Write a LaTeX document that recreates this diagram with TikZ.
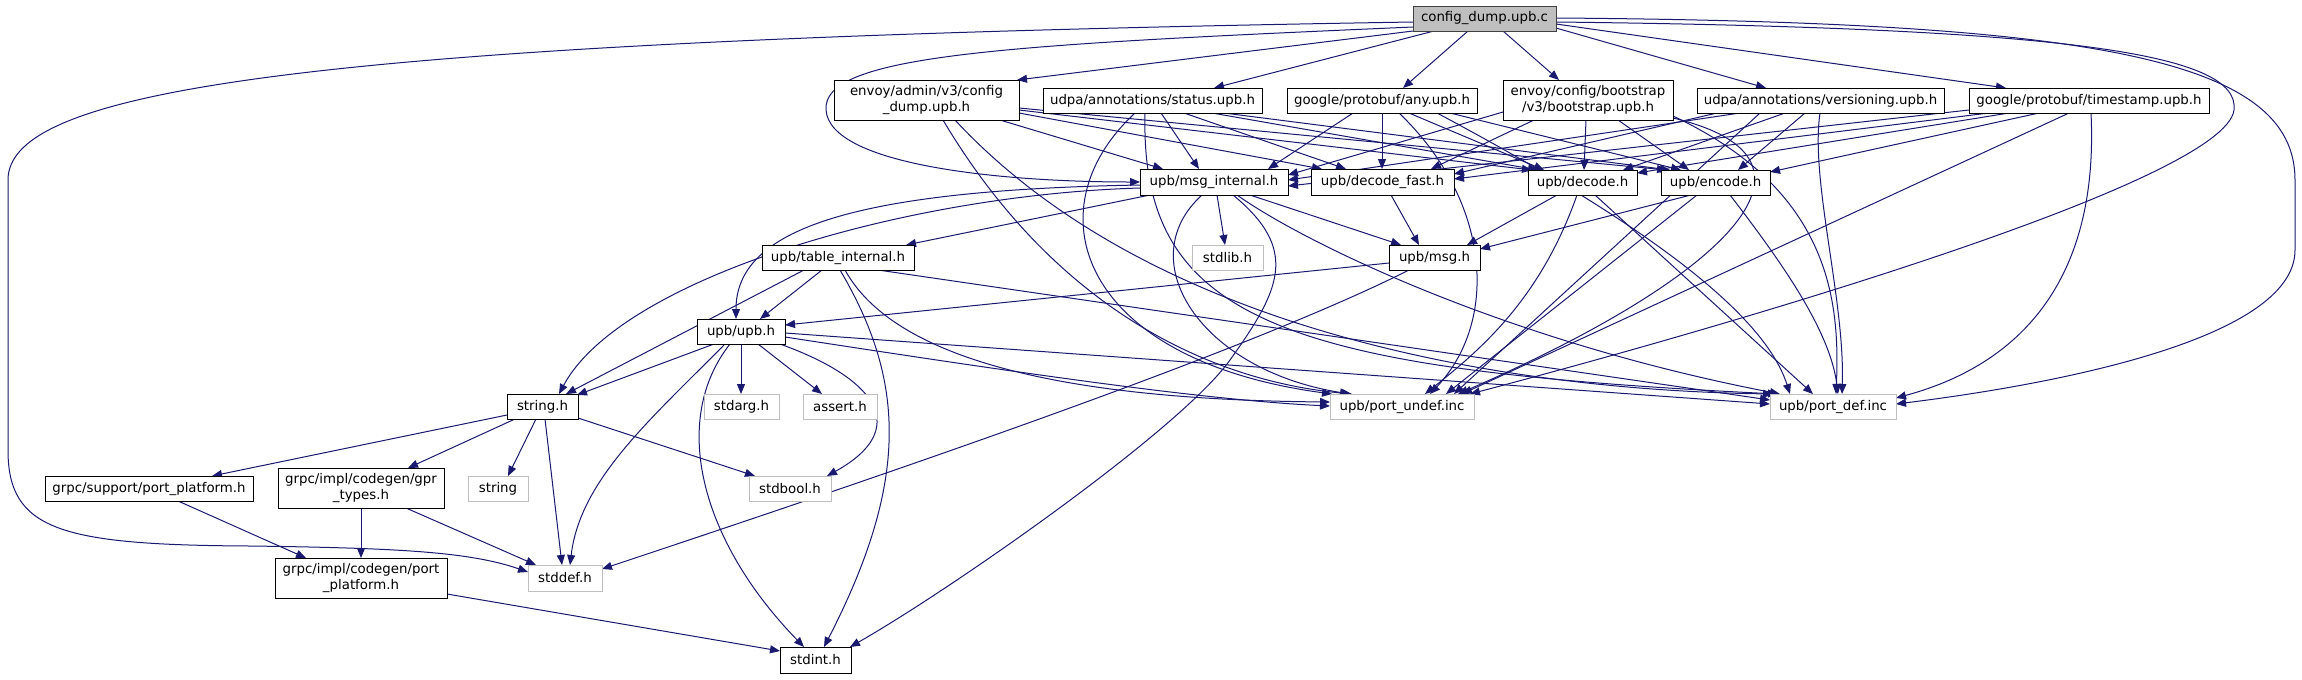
\documentclass[tikz,border=0pt]{standalone}
\usepackage{fontspec}
\setmainfont{DejaVu Sans}
\usetikzlibrary{arrows.meta}
\definecolor{edgeblue}{HTML}{191970}
\definecolor{sysgray}{HTML}{BFBFBF}
\definecolor{rootfill}{HTML}{BFBFBF}
\definecolor{rootdraw}{HTML}{404040}
\pgfdeclarelayer{bg}
\pgfsetlayers{bg,main}
\tikzset{
  box/.style={line width=0.75pt, inner sep=0pt, outer sep=0pt, anchor=north west,
    font=\fontsize{10}{12}\selectfont, align=center, fill=white},
  doc/.style={box, draw=black},
  sys/.style={box, draw=sysgray},
  rootn/.style={box, draw=rootdraw, fill=rootfill},
  edge/.style={draw=edgeblue, line width=0.75pt, -{Triangle[length=7.5pt,width=6pt]}}
}
\begin{document}
\begin{tikzpicture}[x=0.75pt, y=-0.75pt]
\useasboundingbox (0,0) rectangle (2302,679);
% nodes
\node[rootn, minimum width=107.25pt, minimum height=18.75pt] (root) at (1413,6) {config\_dump.upb.c};
\node[doc, minimum width=138.75pt, minimum height=30pt] (admin) at (834,80) {envoy/admin/v3/config\\\_dump.upb.h};
\node[doc, minimum width=164.25pt, minimum height=18.75pt] (status) at (1043,88) {udpa/annotations/status.upb.h};
\node[doc, minimum width=142.5pt, minimum height=18.75pt] (any) at (1287,88) {google/protobuf/any.upb.h};
\node[doc, minimum width=127.5pt, minimum height=30pt] (boot) at (1503,80) {envoy/config/bootstrap\\/v3/bootstrap.upb.h};
\node[doc, minimum width=185.25pt, minimum height=18.75pt] (vers) at (1697,88) {udpa/annotations/versioning.upb.h};
\node[doc, minimum width=180pt, minimum height=18.75pt] (ts) at (1969,88) {google/protobuf/timestamp.upb.h};
\node[doc, minimum width=111pt, minimum height=19.5pt] (msgint) at (1140,169) {upb/msg\_internal.h};
\node[doc, minimum width=107.25pt, minimum height=19.5pt] (dfast) at (1311,169) {upb/decode\_fast.h};
\node[doc, minimum width=81.75pt, minimum height=18.75pt] (dec) at (1528,170) {upb/decode.h};
\node[doc, minimum width=81.75pt, minimum height=18.75pt] (enc) at (1661,170) {upb/encode.h};
\node[doc, minimum width=114pt, minimum height=18.75pt] (tabint) at (762,245) {upb/table\_internal.h};
\node[sys, minimum width=53.25pt, minimum height=18.75pt] (stdlib) at (1192,245) {stdlib.h};
\node[doc, minimum width=68.25pt, minimum height=18.75pt] (msg) at (1389,245) {upb/msg.h};
\node[doc, minimum width=66pt, minimum height=18.75pt] (upb) at (697,319) {upb/upb.h};
\node[doc, minimum width=53.25pt, minimum height=18.75pt] (stringh) at (507,394) {string.h};
\node[sys, minimum width=56.25pt, minimum height=18.75pt] (stdarg) at (704,394) {stdarg.h};
\node[sys, minimum width=55.5pt, minimum height=18.75pt] (assert) at (803,394) {assert.h};
\node[sys, minimum width=108pt, minimum height=18.75pt] (undef) at (1330,394) {upb/port\_undef.inc};
\node[sys, minimum width=94.5pt, minimum height=18.75pt] (def) at (1770,394) {upb/port\_def.inc};
\node[doc, minimum width=156pt, minimum height=18.75pt] (gsupport) at (45,476) {grpc/support/port\_platform.h};
\node[doc, minimum width=124.5pt, minimum height=30pt] (gprtypes) at (278,468) {grpc/impl/codegen/gpr\\\_types.h};
\node[sys, minimum width=45pt, minimum height=18.75pt] (stringx) at (468,476) {string};
\node[sys, minimum width=61.5pt, minimum height=18.75pt] (stdbool) at (749,476) {stdbool.h};
\node[doc, minimum width=129pt, minimum height=30pt] (gport) at (275,558) {grpc/impl/codegen/port\\\_platform.h};
\node[sys, minimum width=55.5pt, minimum height=19.5pt] (stddef) at (528,565) {stddef.h};
\node[doc, minimum width=53.25pt, minimum height=19.5pt] (stdint) at (780,647) {stdint.h};
% edges
\begin{pgfonlayer}{bg}
\foreach \a/\ax/\ay/\b/\bx/\by in {
 root/0/25/admin/183/0, root/21/25/status/171/0, root/55/25/any/116/0,
 root/90/25/boot/56/0, root/143/22/vers/69/0, root/143/18/ts/37/0,
 admin/166/40/msgint/23/0, admin/185/33/dfast/11/0, admin/185/30/dec/4/0, admin/185/28/enc/6/0,
 status/118/25/msgint/59/0, status/141/25/dfast/35/0, status/169/25/dec/10/0, status/181/25/enc/9/0,
 any/66/25/msgint/128/0, any/95/25/dfast/71/0, any/122/25/dec/16/0, any/163/25/enc/20/0,
 boot/0/32/msgint/148/6, boot/31/40/dfast/120/0, boot/83/40/dec/56/0, boot/115/40/enc/28/0,
 vers/43/25/msgint/148/11, vers/20/25/dfast/143/5, vers/88/25/dec/95/0, vers/108/25/enc/77/0,
 vers/63/25/undef/124/0,
 ts/0/22/msgint/148/17, ts/20/25/dfast/143/10, ts/40/25/dec/109/3, ts/70/25/enc/109/2,
 ts/100/25/undef/132/0,
 msgint/10/26/tabint/144/0, msgint/77/26/stdlib/33/0, msgint/110/26/msg/12/0,
 dfast/80/26/msg/30/0, dec/29/25/msg/78/0, dec/67/25/def/43/0,
 enc/30/25/msg/91/4, enc/36/25/undef/116/0,
 msg/0/18/upb/88/6,
 tabint/60/25/upb/63/0, tabint/42/25/stringh/59/0, tabint/116/25/def/0/6,
 upb/17/25/stringh/70/1, upb/44/25/stdarg/37/0, upb/61/25/assert/19/0, upb/88/14/def/0/10,
 stringh/0/21/gsupport/167/0, stringh/8/25/gprtypes/130/0, stringh/29/25/stringx/40/0,
 stringh/38/25/stddef/34/0, stringh/71/24/stdbool/6/0,
 gsupport/133/25/gport/31/0, gprtypes/83/40/gport/86/0, gprtypes/128/40/stddef/8/0,
 gport/172/36/stdint/0/4}
 {\draw[edge] ([shift={(\ax,\ay)}]\a.north west) -- ([shift={(\bx,\by)}]\b.north west);}
% curved edges
\draw[edge] ([shift={(0,16)}]root.north west) .. controls (300,40) and (8,90) .. (8,180) -- (8,450) .. controls (8,530) and (60,545) .. (250,546) .. controls (400,548) and (470,552) .. ([shift={(0,7)}]stddef.north west);
\draw[edge] ([shift={(0,21)}]root.north west) .. controls (1000,45) and (822,55) .. (826,110) .. controls (830,165) and (1000,182) .. ([shift={(0,13)}]msgint.north west);
\draw[edge] ([shift={(143,12)}]root.north west) .. controls (2100,22) and (2295,60) .. (2295,180) -- (2295,250) .. controls (2295,340) and (2050,385) .. ([shift={(126,10)}]def.north west);
\draw[edge] ([shift={(143,16)}]root.north west) .. controls (2080,28) and (2240,55) .. (2234,110) .. controls (2225,180) and (1750,320) .. ([shift={(140,0)}]undef.north west);
\draw[edge] ([shift={(109,40)}]admin.north west) .. controls (1050,300) and (1200,380) .. ([shift={(22,0)}]undef.north west);
\draw[edge] ([shift={(121,40)}]admin.north west) .. controls (1150,330) and (1500,390) .. ([shift={(3,0)}]def.north west);
\draw[edge] ([shift={(92,25)}]status.north west) .. controls (1030,210) and (1080,360) .. ([shift={(2,0)}]undef.north west);
\draw[edge] ([shift={(102,25)}]status.north west) .. controls (1140,320) and (1280,370) .. ([shift={(8,0)}]def.north west);
\draw[edge] ([shift={(112,25)}]any.north west) .. controls (1490,200) and (1500,320) .. ([shift={(100,0)}]undef.north west);
\draw[edge] ([shift={(150,25)}]any.north west) .. controls (1600,200) and (1760,300) .. ([shift={(20,0)}]def.north west);
\draw[edge] ([shift={(170,38)}]boot.north west) .. controls (1850,160) and (1720,280) .. ([shift={(128,0)}]undef.north west);
\draw[edge] ([shift={(170,36)}]boot.north west) .. controls (1830,190) and (1840,300) .. ([shift={(66,0)}]def.north west);
\draw[edge] ([shift={(123,25)}]vers.north west) .. controls (1810,180) and (1845,300) .. ([shift={(72,0)}]def.north west);
\draw[edge] ([shift={(122,25)}]ts.north west) .. controls (2100,300) and (2000,370) .. ([shift={(126,4)}]def.north west);
\draw[edge] ([shift={(0,19)}]msgint.north west) .. controls (900,195) and (620,280) .. ([shift={(52,0)}]stringh.north west);
\draw[edge] ([shift={(0,16)}]msgint.north west) .. controls (850,190) and (736,230) .. ([shift={(39,0)}]upb.north west);
\draw[edge] ([shift={(93,26)}]msgint.north west) .. controls (1300,250) and (1280,290) .. (1230,360) .. controls (1180,430) and (950,590) .. ([shift={(70,0)}]stdint.north west);
\draw[edge] ([shift={(62,26)}]msgint.north west) .. controls (1130,260) and (1200,370) .. ([shift={(20,0)}]undef.north west);
\draw[edge] ([shift={(97,26)}]msgint.north west) .. controls (1300,240) and (1500,340) .. ([shift={(10,0)}]def.north west);
\draw[edge] ([shift={(49,25)}]dec.north west) .. controls (1540,300) and (1480,350) .. ([shift={(95,0)}]undef.north west);
\draw[edge] ([shift={(69,25)}]enc.north west) .. controls (1780,260) and (1830,330) .. ([shift={(68,0)}]def.north west);
\draw[edge] ([shift={(20,25)}]msg.north west) .. controls (1250,350) and (900,470) .. ([shift={(74,4)}]stddef.north west);
\draw[edge] ([shift={(78,25)}]tabint.north west) .. controls (905,380) and (910,480) .. ([shift={(44,0)}]stdint.north west);
\draw[edge] ([shift={(83,25)}]tabint.north west) .. controls (900,370) and (1100,400) .. ([shift={(0,8)}]undef.north west);
\draw[edge] ([shift={(83,25)}]upb.north west) .. controls (880,380) and (910,430) .. ([shift={(78,0)}]stdbool.north west);
\draw[edge] ([shift={(28,25)}]upb.north west) .. controls (650,420) and (580,480) .. ([shift={(42,0)}]stddef.north west);
\draw[edge] ([shift={(33,25)}]upb.north west) .. controls (670,420) and (700,540) .. ([shift={(24,0)}]stdint.north west);
\draw[edge] ([shift={(88,18)}]upb.north west) .. controls (1000,370) and (1200,400) .. ([shift={(0,12)}]undef.north west);
\end{pgfonlayer}
\end{tikzpicture}
\end{document}
